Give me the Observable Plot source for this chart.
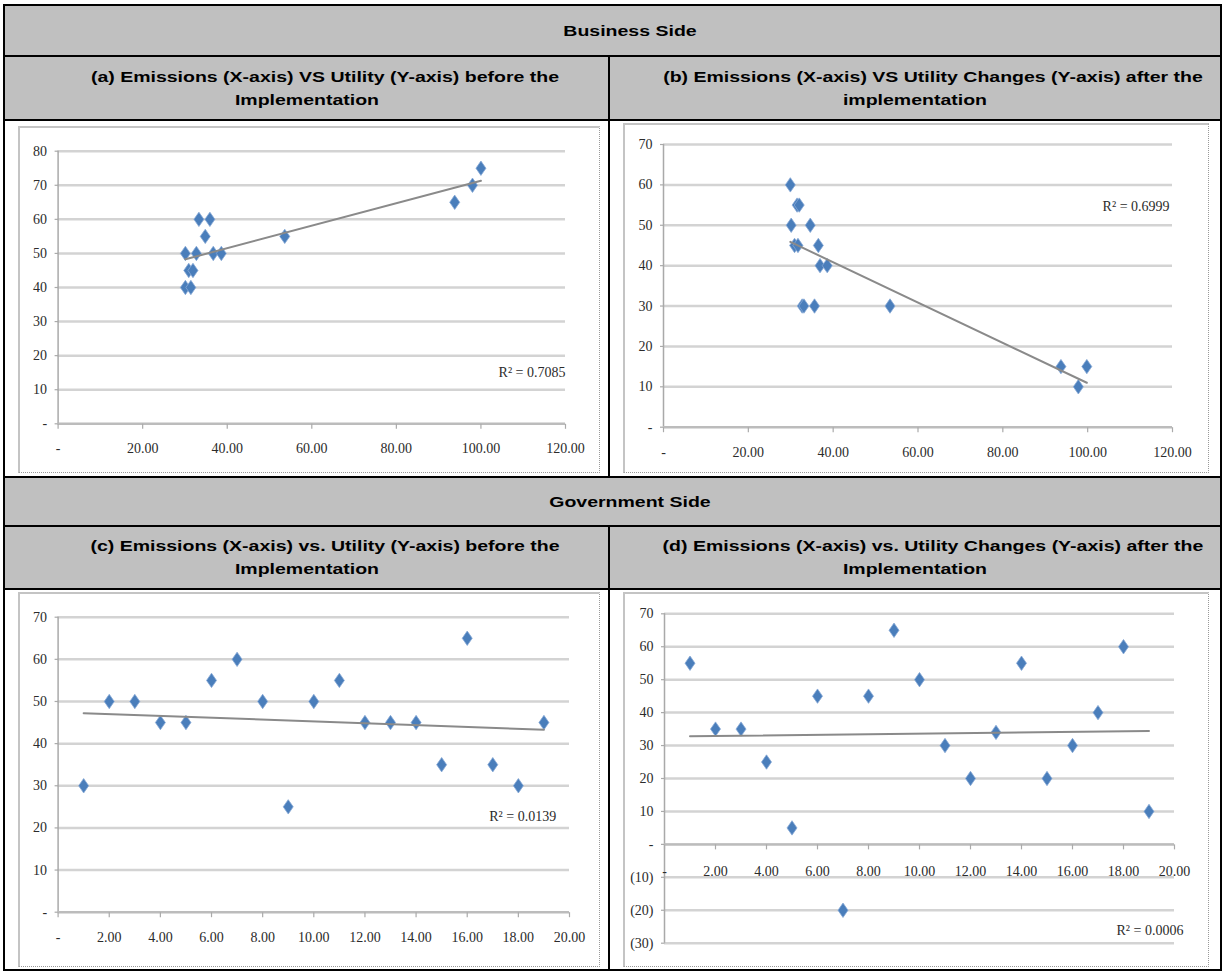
<!DOCTYPE html>
<html><head><meta charset="utf-8">
<script src="https://cdn.jsdelivr.net/npm/d3@7"></script>
<script src="https://cdn.jsdelivr.net/npm/@observablehq/plot@0.6"></script>
<style>
body{margin:0;background:#fff;}
#page{position:relative;width:1224px;height:974px;overflow:hidden;background:#fff;}
.cell{position:absolute;background:#c0c0c0;}
.hd{position:absolute;width:900px;text-align:center;font-family:"Liberation Sans",Arial,sans-serif;font-weight:bold;font-size:15px;line-height:20px;height:20px;transform:scaleX(1.3);white-space:nowrap;color:#000;}
.ln{position:absolute;background:#000;}
.frame{position:absolute;box-sizing:border-box;border-top:2px solid #c4c4c4;border-left:2px solid #c4c4c4;border-right:1px dotted #999;border-bottom:1px dotted #999;pointer-events:none;}
.chart{position:absolute;}
.chart svg{display:block;}
</style></head><body><div id="page"></div><script>
// ---------- data ----------
const bizBeforeEmissions = [30.1, 30.1, 31.4, 30.9, 31.9, 32.7, 33.3, 35.9, 34.8, 36.7, 38.6, 53.6, 93.8, 98.0, 100.0];
const bizBeforeUtility   = [50, 40, 40, 45, 45, 50, 60, 60, 55, 50, 50, 55, 65, 70, 75];
const bizAfterEmissions  = [29.9, 31.5, 32.0, 30.1, 34.6, 30.9, 31.7, 36.5, 36.9, 38.6, 32.7, 33.1, 35.6, 53.4, 93.7, 99.8, 97.8];
const bizAfterUtilityChange = [60, 55, 55, 50, 50, 45, 45, 45, 40, 40, 30, 30, 30, 30, 15, 15, 10];
const govEmissions = [1, 2, 3, 4, 5, 6, 7, 8, 9, 10, 11, 12, 13, 14, 15, 16, 17, 18, 19];
const govBeforeUtility = [30, 50, 50, 45, 45, 55, 60, 50, 25, 50, 55, 45, 45, 45, 35, 65, 35, 30, 45];
const govAfterUtilityChange = [55, 35, 35, 25, 5, 45, -20, 45, 65, 50, 30, 20, 34, 55, 20, 30, 40, 60, 10];

const bizXTicks = [0, 20, 40, 60, 80, 100, 120];
const govXTicks = [0, 2, 4, 6, 8, 10, 12, 14, 16, 18, 20];
const bizBeforeYTicks = [0, 10, 20, 30, 40, 50, 60, 70, 80];
const bizAfterYTicks = [0, 10, 20, 30, 40, 50, 60, 70];
const govBeforeYTicks = [0, 10, 20, 30, 40, 50, 60, 70];
const govAfterYTicks = [-30, -20, -10, 0, 10, 20, 30, 40, 50, 60, 70];

const r2Labels = ["R\u00B2 = 0.7085", "R\u00B2 = 0.6999", "R\u00B2 = 0.0139", "R\u00B2 = 0.0006"];
const r2AnchorX = [120, 119.3, 19.48, 20.35];
const r2AnchorY = [15, 54.6, 22.7, -26.1];

const sectionTitles = ["Business Side", "Government Side"];
const panelTitles = [
  ["(a) Emissions (X-axis) VS Utility (Y-axis) before the", "Implementation"],
  ["(b) Emissions (X-axis) VS Utility Changes (Y-axis) after the", "implementation"],
  ["(c) Emissions (X-axis) vs. Utility (Y-axis) before the", "Implementation"],
  ["(d) Emissions (X-axis) vs. Utility Changes (Y-axis) after the", "Implementation"]
];

// ---------- layout ----------
const page = document.getElementById("page");
function el(cls, css, txt) {
  const d = document.createElement("div");
  d.className = cls;
  Object.assign(d.style, css);
  if (txt != null) d.textContent = txt;
  page.appendChild(d);
  return d;
}
// gray header cells
el("cell", {left: "4px", top: "5px", width: "1217px", height: "51px"});
el("cell", {left: "4px", top: "56px", width: "1217px", height: "64px"});
el("cell", {left: "4px", top: "477px", width: "1217px", height: "49px"});
el("cell", {left: "4px", top: "526px", width: "1217px", height: "63px"});

function headerLine(text, cx, cy) {
  el("hd", {left: (cx - 450) + "px", top: (cy - 10) + "px"}, text);
}
const shift = 18;
headerLine(sectionTitles[0], 612 + shift, 31);
headerLine(sectionTitles[1], 612 + shift, 502);
const colCenters = [306.5, 915];
const rowCenters = [88, 557.5];
panelTitles.forEach((t, i) => {
  const cx = colCenters[i % 2], cy = rowCenters[Math.floor(i / 2)];
  headerLine(t[0], cx + shift, cy - 11.5);
  headerLine(t[1], cx, cy + 11.5);
});

// table lines
[5, 56, 120, 477, 526, 589, 970].forEach(y => el("ln", {left: "3px", top: (y - 0.75) + "px", width: "1219px", height: "1.5px"}));
[4, 1221].forEach(x => el("ln", {left: (x - 0.75) + "px", top: "4px", width: "1.5px", height: "967px"}));
el("ln", {left: "608.25px", top: "56px", width: "1.5px", height: "421px"});
el("ln", {left: "608.25px", top: "526px", width: "1.5px", height: "445px"});

// ---------- charts ----------
const tallDiamond = {draw(ctx) { const w = 5, h = 7.2; ctx.moveTo(0, -h); ctx.lineTo(w, 0); ctx.lineTo(0, h); ctx.lineTo(-w, 0); ctx.closePath(); }};
const vTick = {draw(ctx) { ctx.moveTo(0, 0); ctx.lineTo(0, 5); }};
const hTick = {draw(ctx) { ctx.moveTo(0, 0); ctx.lineTo(-3.5, 0); }};
const xFmtBiz = d => d === 0 ? "-" : d.toFixed(2);
const yFmt = d => d === 0 ? "-" : d < 0 ? "(" + (-d) + ")" : String(d);

const charts = [
  {xs: bizBeforeEmissions, ys: bizBeforeUtility, xTicks: bizXTicks, yTicks: bizBeforeYTicks,
   fx: 18, fy: 126, fw: 582, fh: 347, m: [24.7, 35, 49.7, 39.6], xDy: 25},
  {xs: bizAfterEmissions, ys: bizAfterUtilityChange, xTicks: bizXTicks, yTicks: bizAfterYTicks,
   fx: 623, fy: 123, fw: 586, fh: 350, m: [21, 37, 46.3, 40], xDy: 25},
  {xs: govEmissions, ys: govBeforeUtility, xTicks: govXTicks, yTicks: govBeforeYTicks,
   fx: 18, fy: 592, fw: 582, fh: 375, m: [24.7, 31, 55.3, 39.6], xDy: 25},
  {xs: govEmissions, ys: govAfterUtilityChange, xTicks: govXTicks, yTicks: govAfterYTicks,
   fx: 623, fy: 592, fw: 586, fh: 375, m: [21.3, 35, 24.3, 41], xDy: 27}
];

const textStyle = {fill: "#2b2b2b", fontSize: 14};

charts.forEach((c, i) => {
  const data = c.xs.map((x, k) => ({x, y: c.ys[k]}));
  const xDomain = d3.extent(c.xTicks);
  const yDomain = d3.extent(c.yTicks);
  const svg = Plot.plot({
    width: c.fw, height: c.fh,
    marginTop: c.m[0], marginRight: c.m[1], marginBottom: c.m[2], marginLeft: c.m[3],
    x: {domain: xDomain, axis: null},
    y: {domain: yDomain, axis: null},
    style: {fontFamily: '"Liberation Serif", "Times New Roman", serif', fontSize: "14px", background: "transparent", overflow: "visible"},
    marks: [
      Plot.ruleY(c.yTicks, {stroke: "#d3d3d3", strokeWidth: 2.5}),
      Plot.dot(c.yTicks, {x: () => xDomain[0], y: d => d, symbol: hTick, fill: "none", stroke: "#aaa", strokeWidth: 1.2}),
      Plot.ruleX([xDomain[0]], {stroke: "#a9a9a9", strokeWidth: 1.5}),
      Plot.ruleY([0], {stroke: "#bcbcbc", strokeWidth: 2.2}),
      Plot.dot(c.xTicks, {x: d => d, y: () => 0, symbol: vTick, fill: "none", stroke: "#aaa", strokeWidth: 1.2}),
      Plot.text(c.yTicks, {x: () => xDomain[0], y: d => d, text: yFmt, textAnchor: "end", dx: -11, ...textStyle}),
      Plot.text(c.xTicks, {x: d => d, y: () => 0, text: xFmtBiz, dy: c.xDy, ...textStyle}),
      Plot.dot(data, {x: "x", y: "y", symbol: tallDiamond, r: 5, fill: "#4a7ebb", stroke: "#86a8d6", strokeWidth: 0.8}),
      Plot.linearRegressionY(data, {x: "x", y: "y", stroke: "#8a8a8a", strokeWidth: 2, ci: 0}),
      Plot.text([r2Labels[i]], {x: () => r2AnchorX[i], y: () => r2AnchorY[i], text: d => d, textAnchor: "end", ...textStyle})
    ]
  });
  const holder = el("chart", {left: c.fx + "px", top: c.fy + "px", width: c.fw + "px", height: c.fh + "px"});
  holder.appendChild(svg);
  el("frame", {left: c.fx + "px", top: c.fy + "px", width: c.fw + "px", height: c.fh + "px"});
});
</script></body></html>
